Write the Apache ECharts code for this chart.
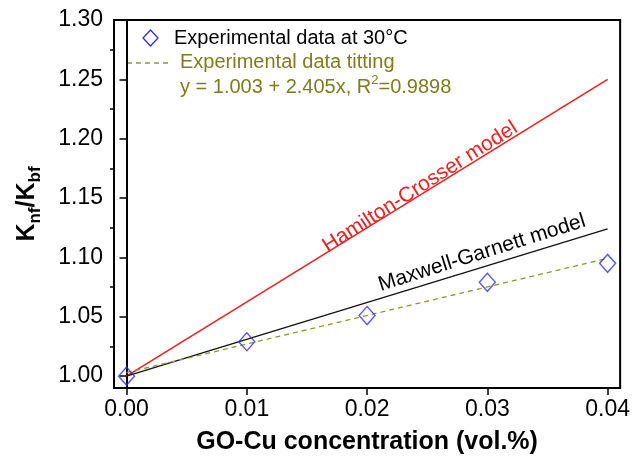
<!DOCTYPE html>
<html>
<head>
<meta charset="utf-8">
<script src="https://cdn.jsdelivr.net/npm/echarts@6/dist/echarts.min.js"></script>
<style>
  html, body { margin: 0; padding: 0; background: #fff; }
  #chart { width: 633px; height: 460px; }
</style>
</head>
<body>
<div id="chart"></div>
<script>
// 实验数据
const concX = [0, 0.01, 0.02, 0.03, 0.04]
const expK = [1.000, 1.029, 1.051, 1.079, 1.095]
// 模型线 (两端点)
const modelX = [0, 0.04]
const hamiltonK = [1.000, 1.250]
const maxwellK = [1.000, 1.124]
const fitK = [1.003, 1.0992]
// 刻度
const xTicks = [0, 0.01, 0.02, 0.03, 0.04]
const yTicks = [1.00, 1.05, 1.10, 1.15, 1.20, 1.25, 1.30]
const yMinor = [1.025, 1.075, 1.125, 1.175, 1.225, 1.275]

const FONT = '"Liberation Sans", Arial, sans-serif'
const OLIVE = '#7d7d1c'

function pairs(xs, ys) {
  return xs.map((x, i) => [x, ys[i]])
}

const chart = echarts.init(document.getElementById('chart'))

const option = {
  animation: false,
  backgroundColor: '#fff',
  textStyle: { fontFamily: FONT },
  grid: {
    left: 114, right: 12, top: 20, bottom: 69,
    show: true, borderColor: '#000', borderWidth: 2
  },
  xAxis: {
    type: 'value',
    min: -0.00104,
    max: 0.04104,
    name: 'GO-Cu concentration (vol.%)',
    nameLocation: 'middle',
    nameGap: 42,
    nameTextStyle: { fontSize: 25, fontWeight: 'bold', color: '#000', fontFamily: FONT },
    axisLine: { lineStyle: { color: '#000', width: 2 } },
    axisTick: { inside: false, length: 7, customValues: xTicks, lineStyle: { color: '#000', width: 1.5 } },
    axisLabel: {
      customValues: xTicks, margin: 10, fontSize: 23, color: '#000', fontFamily: FONT,
      formatter: v => v.toFixed(2)
    },
    splitLine: { show: false }
  },
  yAxis: [
    {
      type: 'value',
      min: 0.990,
      max: 1.30,
      name: '{k|K}{s|nf}{k|/K}{s|bf}',
      nameLocation: 'middle',
      nameGap: 70,
      nameRotate: 90,
      nameTextStyle: {
        color: '#000',
        rich: {
          k: { fontSize: 25, fontWeight: 'bold', fontFamily: FONT, lineHeight: 34, color: '#000' },
          s: { fontSize: 17, fontWeight: 'bold', fontFamily: FONT, verticalAlign: 'bottom', color: '#000' }
        }
      },
      axisLine: { show: true, lineStyle: { color: '#000', width: 2 } },
      axisTick: { inside: false, length: 7, customValues: yTicks, lineStyle: { color: '#000', width: 1.5 } },
      axisLabel: {
        customValues: yTicks, margin: 11, fontSize: 23, color: '#000', fontFamily: FONT,
        formatter: v => v.toFixed(2)
      },
      splitLine: { show: false }
    },
    {
      // 次刻度
      type: 'value',
      min: 0.990,
      max: 1.30,
      position: 'left',
      axisLine: { show: false },
      axisTick: { show: true, inside: false, length: 4, customValues: yMinor, lineStyle: { color: '#000', width: 1.5 } },
      axisLabel: { show: false },
      splitLine: { show: false }
    }
  ],
  series: [
    {
      name: 'Hamilton-Crosser model',
      type: 'line',
      data: pairs(modelX, hamiltonK),
      symbol: 'none',
      lineStyle: { color: '#f02020', width: 1.6 },
      z: 2
    },
    {
      name: 'Maxwell-Garnett model',
      type: 'line',
      data: pairs(modelX, maxwellK),
      symbol: 'none',
      lineStyle: { color: '#111', width: 1.3 },
      z: 2
    },
    {
      name: 'Experimental data titting',
      type: 'line',
      data: pairs(modelX, fitK),
      symbol: 'none',
      lineStyle: { color: '#8c9a30', width: 1.3, type: [5, 4] },
      z: 3
    },
    {
      name: 'Experimental data at 30°C',
      type: 'scatter',
      data: pairs(concX, expK),
      symbol: 'diamond',
      symbolSize: [16, 18],
      itemStyle: { color: 'rgba(255,255,255,0)', borderColor: '#2e2ef5', borderWidth: 1.4 },
      z: 5
    }
  ],
  graphic: [
    // 图例
    {
      type: 'polygon',
      shape: { points: [[150.5, 30], [158, 38], [150.5, 46], [143, 38]] },
      style: { fill: 'none', stroke: '#2e2ef5', lineWidth: 1.3 }
    },
    {
      type: 'text', x: 174, y: 38,
      style: { text: 'Experimental data at 30°C', fontSize: 20, fontFamily: FONT, fill: '#000', textVerticalAlign: 'middle' }
    },
    {
      type: 'line',
      shape: { x1: 127, y1: 63, x2: 170, y2: 63 },
      style: { stroke: '#8c9a30', lineWidth: 1.3, lineDash: [5, 4] }
    },
    {
      type: 'text', x: 180, y: 62,
      style: { text: 'Experimental data titting', fontSize: 20, fontFamily: FONT, fill: OLIVE, textVerticalAlign: 'middle' }
    },
    {
      type: 'text', x: 180, y: 87,
      style: {
        text: '{t|y = 1.003 + 2.405x, R}{u|2}{t|=0.9898}',
        textVerticalAlign: 'middle',
        rich: {
          t: { fontSize: 20, fontFamily: FONT, fill: OLIVE, color: OLIVE, lineHeight: 26 },
          u: { fontSize: 13, fontFamily: FONT, fill: OLIVE, color: OLIVE, verticalAlign: 'top' }
        }
      }
    },
    // 模型标注
    {
      type: 'text', x: 420, y: 187, rotation: 32.5 * Math.PI / 180,
      style: { text: 'Hamilton-Crosser model', fontSize: 21, fontFamily: FONT, fill: '#f02020', textAlign: 'center', textVerticalAlign: 'middle' }
    },
    {
      type: 'text', x: 482, y: 253, rotation: 17.5 * Math.PI / 180,
      style: { text: 'Maxwell-Garnett model', fontSize: 21, fontFamily: FONT, fill: '#000', textAlign: 'center', textVerticalAlign: 'middle' }
    }
  ]
}

chart.setOption(option)
</script>
</body>
</html>
